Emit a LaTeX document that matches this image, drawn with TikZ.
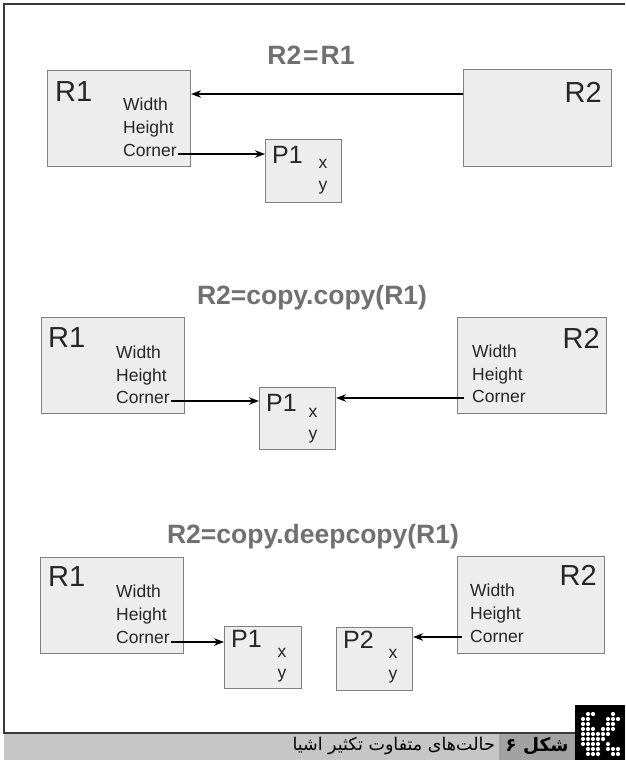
\documentclass[tikz,border=0pt]{standalone}
\usepackage{fontspec}
\setmainfont{Liberation Sans}
\newfontfamily\arabicfont[Script=Arabic]{DejaVu Sans}
\usetikzlibrary{arrows.meta,calc}
\TeXXeTstate=1
\definecolor{boxfill}{HTML}{EDEDED}
\definecolor{boxline}{HTML}{808080}
\definecolor{titlegray}{HTML}{707070}
\definecolor{framecol}{HTML}{3A3A3A}
\definecolor{barlight}{HTML}{C6C6C6}
\definecolor{bardark}{HTML}{A2A2A2}
\begin{document}
\begin{tikzpicture}[x=1pt,y=-1pt,
  objbox/.style={draw=boxline,fill=boxfill,line width=1.1pt,inner sep=0pt,anchor=north west},
  bigname/.style={font=\fontsize{29}{29}\selectfont,inner sep=0pt,text=black!85},
  pname/.style={font=\fontsize{25}{25}\selectfont,inner sep=0pt,text=black!85},
  attr/.style={font=\fontsize{17.5}{17.5}\selectfont,inner sep=0pt,anchor=base west,text=black!85},
  xy/.style={font=\fontsize{17.5}{17.5}\selectfont,inner sep=0pt,anchor=base,text=black!85},
  ttl/.style={font=\bfseries\fontsize{26.5}{26.5}\selectfont,text=titlegray,inner sep=0pt},
  arr/.style={-{Stealth[length=10pt,width=7.5pt]},line width=1.5pt},
  frame/.style={draw=framecol,line width=1.8pt}]
\useasboundingbox (0,0) rectangle (625,760);
\fill[white] (0,0) rectangle (625,760);

% frame
\coordinate (ftr) at (625,4);
\coordinate (ftl) at (4,4);
\coordinate (fbl) at (4,733);
\coordinate (fbr) at (575,733);
\draw[frame] (ftr) -- (ftl) -- (fbl) -- (fbr);

% ---------- section 1 ----------
\node[ttl] (t1) at (311,55) {R2\hspace{2pt}=\hspace{2pt}R1};
\node[objbox,minimum width=143pt,minimum height=96pt] (r1a) at (47,70) {};
\node[bigname,anchor=west] (n1a) at (55,92) {R1};
\node[attr] (w1a) at (123,110) {Width};
\node[attr] (h1a) at (123,133) {Height};
\node[attr] (c1a) at (123,156) {Corner};
\node[objbox,minimum width=76pt,minimum height=63pt] (p1a) at (265,139) {};
\node[pname,anchor=west] (np1a) at (272,155) {P1};
\node[xy] (x1a) at (323,168) {x};
\node[xy] (y1a) at (323,190) {y};
\node[objbox,minimum width=148pt,minimum height=97pt] (r2a) at (463,69) {};
\node[bigname,anchor=east] (n2a) at (602,92) {R2};
\coordinate (s1a) at (463,94);
\draw[arr] (s1a) -- (s1a -| r1a.east);
\coordinate (s2a) at ([xshift=1pt,yshift=2pt]c1a.base east);
\draw[arr] (s2a) -- (s2a -| p1a.west);

% ---------- section 2 ----------
\node[ttl] (t2) at (312,298) {R2=copy.copy(R1)};
\node[objbox,minimum width=143pt,minimum height=96pt] (r1b) at (41,317) {};
\node[bigname,anchor=west] (n1b) at (48,338) {R1};
\node[attr] (w1b) at (116,358) {Width};
\node[attr] (h1b) at (116,381) {Height};
\node[attr] (c1b) at (116,403) {Corner};
\node[objbox,minimum width=76pt,minimum height=62pt] (p1b) at (259,387) {};
\node[pname,anchor=west] (np1b) at (266,403) {P1};
\node[xy] (x1b) at (313,417) {x};
\node[xy] (y1b) at (313,439) {y};
\node[objbox,minimum width=149pt,minimum height=96pt] (r2b) at (457,317) {};
\node[bigname,anchor=east] (n2b) at (600,338) {R2};
\node[attr] (w2b) at (472,357) {Width};
\node[attr] (h2b) at (472,380) {Height};
\node[attr] (c2b) at (472,402) {Corner};
\coordinate (s1b) at ([xshift=1pt,yshift=2pt]c1b.base east);
\draw[arr] (s1b) -- (s1b -| p1b.west);
\coordinate (s2b) at ([xshift=-8pt,yshift=4pt]c2b.base west);
\draw[arr] (s2b) -- (s2b -| p1b.east);

% ---------- section 3 ----------
\node[ttl] (t3) at (313,537) {R2=copy.deepcopy(R1)};
\node[objbox,minimum width=143pt,minimum height=96pt] (r1c) at (40,557) {};
\node[bigname,anchor=west] (n1c) at (48,577) {R1};
\node[attr] (w1c) at (116,597) {Width};
\node[attr] (h1c) at (116,620) {Height};
\node[attr] (c1c) at (116,643) {Corner};
\node[objbox,minimum width=77pt,minimum height=62pt] (p1c) at (224,626) {};
\node[pname,anchor=west] (np1c) at (231,639) {P1};
\node[xy] (x1c) at (282,657) {x};
\node[xy] (y1c) at (282,678) {y};
\node[objbox,minimum width=76pt,minimum height=63pt] (p2c) at (336,627) {};
\node[pname,anchor=west] (np2c) at (343,640) {P2};
\node[xy] (x2c) at (393,658) {x};
\node[xy] (y2c) at (393,679) {y};
\node[objbox,minimum width=147pt,minimum height=97pt] (r2c) at (457,556) {};
\node[bigname,anchor=east] (n2c) at (597,575) {R2};
\node[attr] (w2c) at (470,596) {Width};
\node[attr] (h2c) at (470,619) {Height};
\node[attr] (c2c) at (470,642) {Corner};
\coordinate (s1c) at ([xshift=1pt,yshift=1pt]c1c.base east);
\draw[arr] (s1c) -- (s1c -| p1c.west);
\coordinate (s2c) at ([xshift=-8pt,yshift=5pt]c2c.base west);
\draw[arr] (s2c) -- (s2c -| p2c.east);

% ---------- caption ----------
\fill[barlight] (4,734) rectangle (499,760);
\fill[bardark] (499,734) rectangle (575,760);
\fill[black] (575,705) rectangle (625,760);
\foreach \c/\r in {1/0,2/0,6/0, 0/1,1/1,5/1,6/1,7/1, 0/2,1/2,5/2,6/2, 0/3,1/3,2/3,4/3,5/3,6/3,
  0/4,1/4,2/4,3/4,4/4,5/4, 0/5,1/5,2/5,3/5,4/5, 0/6,1/6,2/6,3/6,5/6,
  1/7,2/7,3/7,5/7,6/7,7/7, 1/8,2/8,3/8,6/8,7/8}
  \fill[white] ({583+5*\c},{714+5*\r}) circle (2.1);
\node[font=\arabicfont\fontsize{17.5}{17.5}\selectfont,anchor=east,inner sep=0pt] (cap) at (495,746) {\beginR حالت‌های متفاوت تکثیر اشیا\endR};
\node[font=\arabicfont\bfseries\fontsize{18.5}{18.5}\selectfont,inner sep=0pt] (capn) at (537,746) {\beginR شکل ۶\endR};
\end{tikzpicture}
\end{document}
